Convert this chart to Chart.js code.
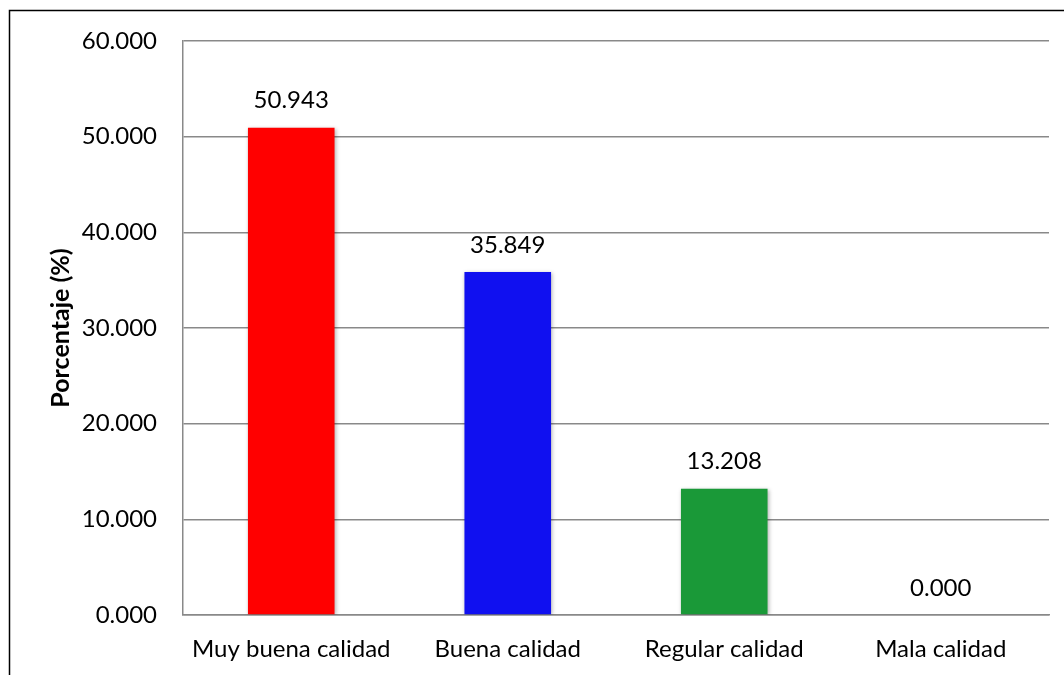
<!DOCTYPE html>
<html>
<head>
<meta charset="utf-8">
<script src="https://cdn.jsdelivr.net/npm/chart.js@4"></script>
<style>
  html, body { margin: 0; padding: 0; background: #fff; }
  #wrap { width: 1064px; height: 675px; position: relative; }
</style>
</head>
<body>
<div id="wrap"><canvas id="grafico" width="1064" height="675"></canvas></div>
<script>
// datos del grafico
const categorias = ['Muy buena calidad', 'Buena calidad', 'Regular calidad', 'Mala calidad'];
const porcentajes = [50.943, 35.849, 13.208, 0.000];
const coloresBarras = ['#ff0000', '#1010f0', '#1a9938', '#888888'];
const ejeY = { min: 0, max: 60, paso: 10 };
const tituloY = 'Porcentaje (%)';

const fuente = 'Lato, "Open Sans", sans-serif';

// marco exterior del grafico
const marcoPlugin = {
  id: 'marco',
  afterDraw(chart) {
    const ctx = chart.ctx;
    ctx.save();
    ctx.strokeStyle = '#000';
    ctx.lineWidth = 1.5;
    ctx.strokeRect(9.5, 10.5, 1100, 700);
    ctx.restore();
  }
};

// etiquetas de valor sobre cada barra
const etiquetasPlugin = {
  id: 'etiquetas',
  afterDatasetsDraw(chart) {
    const ctx = chart.ctx;
    const meta = chart.getDatasetMeta(0);
    ctx.save();
    ctx.font = '24px ' + fuente;
    ctx.fillStyle = '#000';
    ctx.textAlign = 'center';
    ctx.textBaseline = 'middle';
    meta.data.forEach((bar, i) => {
      ctx.fillText(porcentajes[i].toFixed(3), bar.x, bar.y - 27);
    });
    ctx.restore();
  }
};

// sombra suave de las barras
const sombraPlugin = {
  id: 'sombra',
  beforeDatasetsDraw(chart) {
    const ctx = chart.ctx;
    ctx.save();
    ctx.shadowColor = 'rgba(0,0,0,0.3)';
    ctx.shadowBlur = 4;
    ctx.shadowOffsetX = 1;
    ctx.shadowOffsetY = 1;
  },
  afterDatasetsDraw(chart) {
    chart.ctx.restore();
  }
};

const ctx = document.getElementById('grafico').getContext('2d');
new Chart(ctx, {
  type: 'bar',
  data: {
    labels: categorias,
    datasets: [{
      data: porcentajes,
      backgroundColor: coloresBarras,
      borderWidth: 0,
      categoryPercentage: 1,
      barPercentage: 0.4
    }]
  },
  options: {
    responsive: false,
    animation: false,
    devicePixelRatio: 1,
    layout: { padding: { top: 41, right: 15, left: 0, bottom: 0 } },
    plugins: {
      legend: { display: false },
      tooltip: { enabled: false }
    },
    scales: {
      x: {
        grid: { display: false, drawTicks: false },
        border: { display: true, color: '#898989', width: 1.5 },
        ticks: {
          color: '#000',
          font: { family: fuente, size: 24 },
          padding: 20,
          maxRotation: 0
        },
        afterFit(scale) { scale.height = 60; }
      },
      y: {
        min: ejeY.min,
        max: ejeY.max,
        grid: { color: '#898989', lineWidth: 1.5, drawTicks: false },
        border: { display: true, color: '#898989', width: 1.5 },
        ticks: {
          stepSize: ejeY.paso,
          color: '#000',
          font: { family: fuente, size: 24 },
          padding: 26,
          callback: v => Number(v).toFixed(3)
        },
        title: {
          display: true,
          text: tituloY,
          color: '#000',
          font: { family: fuente, size: 25, weight: 'bold' },
          padding: { top: 46, bottom: 0 }
        },
        afterFit(scale) { scale.width = 183; }
      }
    }
  },
  plugins: [marcoPlugin, sombraPlugin, etiquetasPlugin]
});
</script>
</body>
</html>
